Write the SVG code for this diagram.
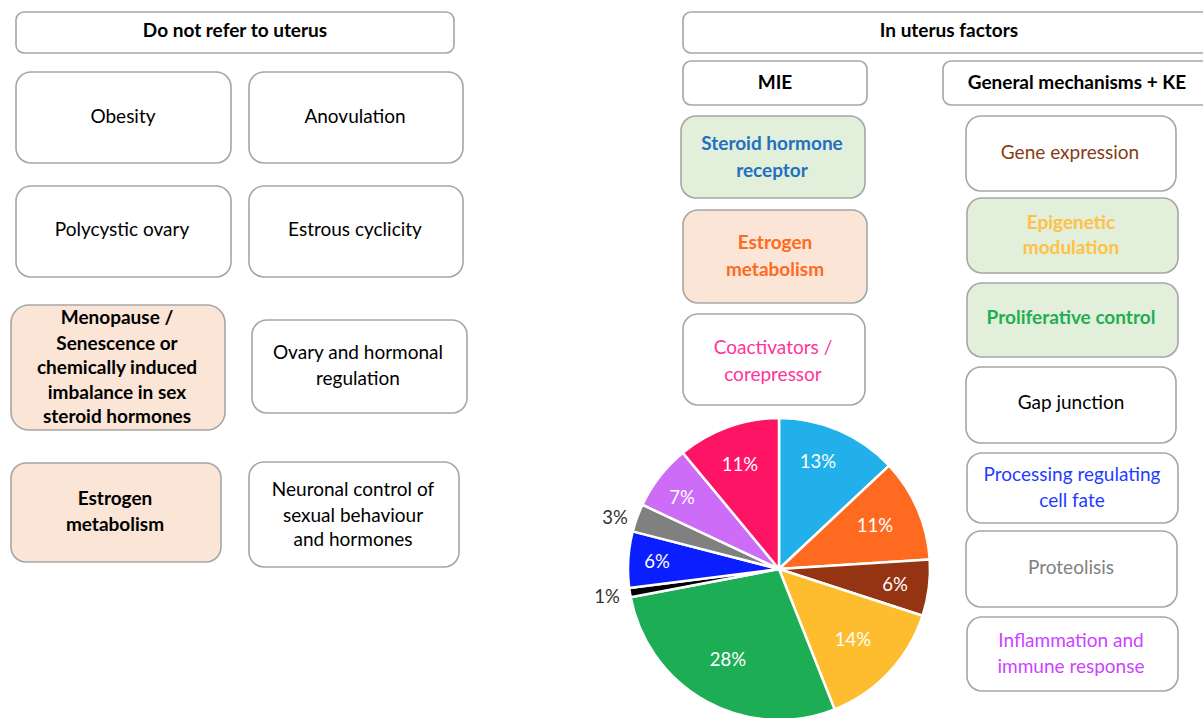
<svg xmlns="http://www.w3.org/2000/svg" width="1203" height="718" viewBox="0 0 1203 718">
<style>
.box{fill:#ffffff;stroke:#a6a6a6;stroke-width:1.6}
.green{fill:#e2efda}
.peach{fill:#fbe5d6}
text{font-family:Lato,"Liberation Sans",sans-serif;font-size:19px;text-anchor:middle;fill:#000}
.b{font-weight:bold}
.sl{stroke:#ffffff;stroke-width:2.5;stroke-linejoin:round}
.pl{fill:#ffffff;font-size:18.5px}
.po{fill:#333333;font-size:18.5px}
</style>
<rect width="1203" height="718" fill="#ffffff"/>

<g id="hdr-left"><rect class="box" x="16" y="12" width="438" height="41" rx="8"/><text class="b" x="235" y="37">Do not refer to uterus</text></g>
<g id="obesity"><rect class="box" x="16" y="72" width="215" height="91" rx="15"/><text x="123" y="123">Obesity</text></g>
<g id="anovulation"><rect class="box" x="249" y="72" width="214" height="91" rx="15"/><text x="355" y="123">Anovulation</text></g>
<g id="polycystic"><rect class="box" x="16" y="186" width="215" height="91" rx="15"/><text x="122" y="236">Polycystic ovary</text></g>
<g id="estrous"><rect class="box" x="249" y="186" width="214" height="91" rx="15"/><text x="355" y="236">Estrous cyclicity</text></g>
<g id="menopause"><rect class="box peach" x="11" y="305" width="214" height="125" rx="18"/>
<text class="b" x="117" y="324">Menopause /</text><text class="b" x="117" y="350">Senescence or</text><text class="b" x="117" y="374">chemically induced</text><text class="b" x="117" y="399">imbalance in sex</text><text class="b" x="117" y="423">steroid hormones</text></g>
<g id="ovary"><rect class="box" x="252" y="320" width="215" height="93" rx="15"/><text x="358" y="359">Ovary and hormonal</text><text x="358" y="385">regulation</text></g>
<g id="estrogen-left"><rect class="box peach" x="11" y="463" width="210" height="99" rx="15"/><text class="b" x="115" y="505">Estrogen</text><text class="b" x="115" y="531">metabolism</text></g>
<g id="neuronal"><rect class="box" x="249" y="462" width="210" height="105" rx="15"/><text x="353" y="496">Neuronal control of</text><text x="353" y="522">sexual behaviour</text><text x="353" y="546">and hormones</text></g>

<g id="hdr-right"><rect class="box" x="683" y="12" width="530" height="41" rx="8"/><text class="b" x="949" y="37">In uterus factors</text></g>
<g id="mie"><rect class="box" x="683" y="61" width="184" height="44" rx="8"/><text class="b" x="775" y="89">MIE</text></g>
<g id="general"><rect class="box" x="943" y="61" width="270" height="44" rx="8"/><text class="b" x="1077" y="89">General mechanisms + KE</text></g>

<g id="steroid"><rect class="box green" x="681" y="116" width="184" height="82" rx="15"/><text class="b" x="772" y="150" style="fill:#1f70c1">Steroid hormone</text><text class="b" x="772" y="177" style="fill:#1f70c1">receptor</text></g>
<g id="estrogen-right"><rect class="box peach" x="683" y="210" width="184" height="93" rx="15"/><text class="b" x="775" y="249" style="fill:#ff6a21">Estrogen</text><text class="b" x="775" y="276" style="fill:#ff6a21">metabolism</text></g>
<g id="coactivators"><rect class="box" x="683" y="314" width="182" height="91" rx="15"/><text x="773" y="354" style="fill:#ff3399">Coactivators /</text><text x="773" y="381" style="fill:#ff3399">corepressor</text></g>

<g id="gene"><rect class="box" x="966" y="116" width="210" height="75" rx="15"/><text x="1070" y="159" style="fill:#843c14">Gene expression</text></g>
<g id="epigenetic"><rect class="box green" x="967" y="198" width="211" height="75" rx="15"/><text class="b" x="1071" y="229" style="fill:#ffc145">Epigenetic</text><text class="b" x="1071" y="254" style="fill:#ffc145">modulation</text></g>
<g id="proliferative"><rect class="box green" x="967" y="283" width="211" height="74" rx="15"/><text class="b" x="1071" y="324" style="fill:#1fae52">Proliferative control</text></g>
<g id="gap"><rect class="box" x="966" y="367" width="210" height="76" rx="15"/><text x="1071" y="409">Gap junction</text></g>
<g id="processing"><rect class="box" x="967" y="453" width="211" height="70" rx="15"/><text x="1072" y="481" style="fill:#1f3cff">Processing regulating</text><text x="1072" y="507" style="fill:#1f3cff">cell fate</text></g>
<g id="proteolisis"><rect class="box" x="966" y="531" width="211" height="76" rx="15"/><text x="1071" y="574" style="fill:#808080">Proteolisis</text></g>
<g id="inflammation"><rect class="box" x="967" y="617" width="211" height="74" rx="15"/><text x="1071" y="647" style="fill:#cc44ff">Inflammation and</text><text x="1071" y="673" style="fill:#cc44ff">immune response</text></g>

<g id="pie">
<path class="sl" fill="#22b0ea" d="M779 569 L779 418 A151 151 0 0 1 889.1 465.6 Z"/>
<path class="sl" fill="#ff6a21" d="M779 569 L889.1 465.6 A151 151 0 0 1 929.7 559.5 Z"/>
<path class="sl" fill="#943413" d="M779 569 L929.7 559.5 A151 151 0 0 1 922.6 615.7 Z"/>
<path class="sl" fill="#fdbd2e" d="M779 569 L922.6 615.7 A151 151 0 0 1 834.6 709.4 Z"/>
<path class="sl" fill="#1dae55" d="M779 569 L834.6 709.4 A151 151 0 0 1 630.7 597.3 Z"/>
<path class="sl" fill="#000000" d="M779 569 L630.7 597.3 A151 151 0 0 1 629.2 587.9 Z"/>
<path class="sl" fill="#0a1eff" d="M779 569 L629.2 587.9 A151 151 0 0 1 632.7 531.4 Z"/>
<path class="sl" fill="#808080" d="M779 569 L632.7 531.4 A151 151 0 0 1 642.4 504.7 Z"/>
<path class="sl" fill="#cc6cf7" d="M779 569 L642.4 504.7 A151 151 0 0 1 682.8 452.7 Z"/>
<path class="sl" fill="#fe1465" d="M779 569 L682.8 452.7 A151 151 0 0 1 779 418 Z"/>
<text class="pl" x="818" y="468">13%</text>
<text class="pl" x="875" y="532">11%</text>
<text class="pl" x="895" y="591">6%</text>
<text class="pl" x="853" y="646">14%</text>
<text class="pl" x="728" y="666">28%</text>
<text class="po" x="607" y="603">1%</text>
<text class="pl" x="657" y="568">6%</text>
<text class="po" x="615" y="524">3%</text>
<text class="pl" x="682" y="504">7%</text>
<text class="pl" x="740" y="471">11%</text>
</g>
</svg>
